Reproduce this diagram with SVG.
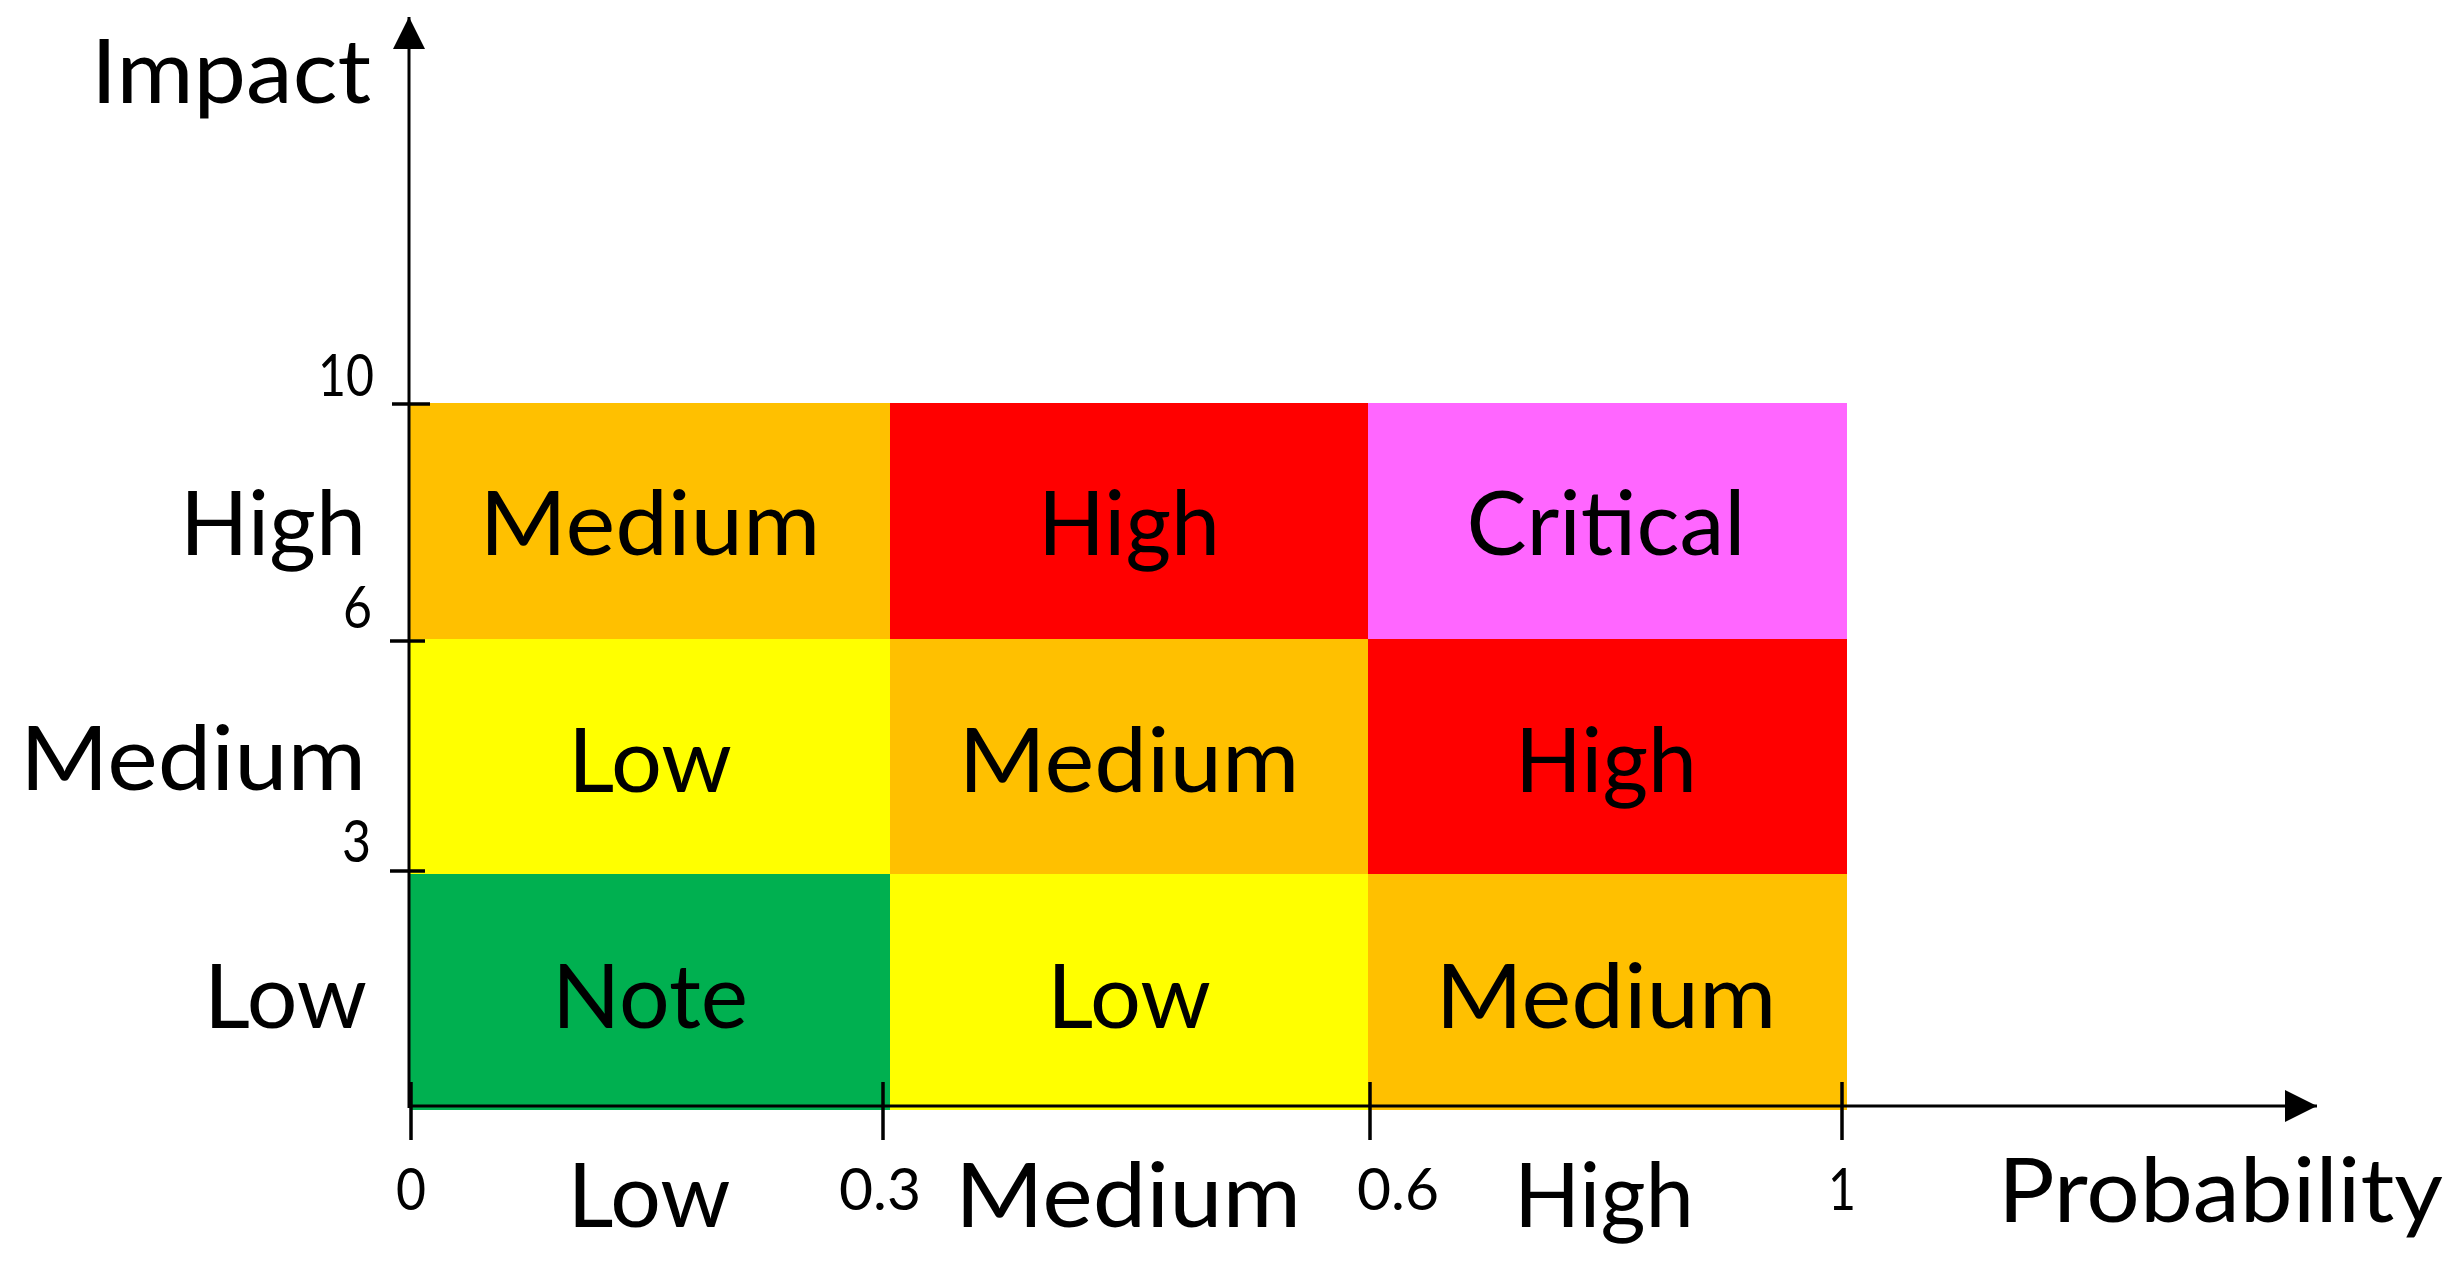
<svg xmlns="http://www.w3.org/2000/svg" width="2464" height="1264" viewBox="0 0 2464 1264">
<style>
.big{font-family:Lato,"Open Sans","Liberation Sans",sans-serif;font-size:90px;fill:#000}
.tick{font-family:Lato,"Open Sans","Liberation Sans",sans-serif;font-size:58px;fill:#000}
.mid{text-anchor:middle}
.end{text-anchor:end}
.axis{stroke:#000;stroke-width:3;fill:none}
.tk{stroke:#000;stroke-width:3.5;fill:none}
.or{fill:#FFC000}.rd{fill:#FF0000}.mg{fill:#FF66FF}.yl{fill:#FFFF00}.gr{fill:#00B050}
</style>
<defs>
<marker id="arr" viewBox="0 0 32 32" refX="32" refY="16" markerWidth="32" markerHeight="32" markerUnits="userSpaceOnUse" orient="auto">
<path d="M0,0 L32,16 L0,32 z" fill="#000"/>
</marker>
</defs>
<rect width="2464" height="1264" fill="#fff"/>

<g id="cell-r1c1"><rect class="or" x="410" y="403" width="480" height="236"/><text class="big mid" x="650" y="555" textLength="341" lengthAdjust="spacingAndGlyphs">Medium</text></g>
<g id="cell-r1c2"><rect class="rd" x="890" y="403" width="478" height="236"/><text class="big mid" x="1129" y="555" textLength="182" lengthAdjust="spacingAndGlyphs">High</text></g>
<g id="cell-r1c3"><rect class="mg" x="1368" y="403" width="479" height="236"/><text class="big mid" x="1606" y="555" textLength="279" lengthAdjust="spacingAndGlyphs">Critical</text></g>
<g id="cell-r2c1"><rect class="yl" x="410" y="639" width="480" height="235"/><text class="big mid" x="650" y="792" textLength="164" lengthAdjust="spacingAndGlyphs">Low</text></g>
<g id="cell-r2c2"><rect class="or" x="890" y="639" width="478" height="235"/><text class="big mid" x="1129" y="792" textLength="341" lengthAdjust="spacingAndGlyphs">Medium</text></g>
<g id="cell-r2c3"><rect class="rd" x="1368" y="639" width="479" height="235"/><text class="big mid" x="1606" y="792" textLength="182" lengthAdjust="spacingAndGlyphs">High</text></g>
<g id="cell-r3c1"><rect class="gr" x="410" y="874" width="480" height="236"/><text class="big mid" x="650" y="1028" textLength="196" lengthAdjust="spacingAndGlyphs">Note</text></g>
<g id="cell-r3c2"><rect class="yl" x="890" y="874" width="478" height="236"/><text class="big mid" x="1129" y="1028" textLength="164" lengthAdjust="spacingAndGlyphs">Low</text></g>
<g id="cell-r3c3"><rect class="or" x="1368" y="874" width="479" height="236"/><text class="big mid" x="1606" y="1028" textLength="341" lengthAdjust="spacingAndGlyphs">Medium</text></g>

<g id="connectors">
<line class="axis" x1="409" y1="1108" x2="409" y2="17" marker-end="url(#arr)"/>
<line class="axis" x1="408" y1="1106" x2="2317" y2="1106" marker-end="url(#arr)"/>
<line class="tk" x1="392" y1="404" x2="430" y2="404"/>
<line class="tk" x1="390" y1="641" x2="425" y2="641"/>
<line class="tk" x1="390" y1="871" x2="425" y2="871"/>
<line class="tk" x1="411" y1="1082" x2="411" y2="1140"/>
<line class="tk" x1="883" y1="1082" x2="883" y2="1140"/>
<line class="tk" x1="1370" y1="1082" x2="1370" y2="1140"/>
<line class="tk" x1="1842" y1="1082" x2="1842" y2="1140"/>
</g>

<g id="axis-labels">
<text class="big" x="91" y="103" textLength="280" lengthAdjust="spacingAndGlyphs">Impact</text>
<text class="big" x="1998" y="1222" textLength="445" lengthAdjust="spacingAndGlyphs">Probability</text>
<text class="big end" x="366" y="555" textLength="186" lengthAdjust="spacingAndGlyphs">High</text>
<text class="big end" x="366" y="790" textLength="346" lengthAdjust="spacingAndGlyphs">Medium</text>
<text class="big end" x="367" y="1028" textLength="163" lengthAdjust="spacingAndGlyphs">Low</text>
<text class="big mid" x="649" y="1227" textLength="163" lengthAdjust="spacingAndGlyphs">Low</text>
<text class="big mid" x="1128" y="1227" textLength="346" lengthAdjust="spacingAndGlyphs">Medium</text>
<text class="big mid" x="1604" y="1227" textLength="180" lengthAdjust="spacingAndGlyphs">High</text>
<text class="tick end" x="374" y="396" textLength="56" lengthAdjust="spacingAndGlyphs">10</text>
<text class="tick end" x="372" y="628" textLength="29" lengthAdjust="spacingAndGlyphs">6</text>
<text class="tick end" x="371" y="862" textLength="29" lengthAdjust="spacingAndGlyphs">3</text>
<text class="tick mid" x="411" y="1210" textLength="30" lengthAdjust="spacingAndGlyphs">0</text>
<text class="tick mid" x="880" y="1210" textLength="82" lengthAdjust="spacingAndGlyphs">0.3</text>
<text class="tick mid" x="1398" y="1210" textLength="82" lengthAdjust="spacingAndGlyphs">0.6</text>
<text class="tick mid" x="1842" y="1210" textLength="28" lengthAdjust="spacingAndGlyphs">1</text>
</g>
</svg>
